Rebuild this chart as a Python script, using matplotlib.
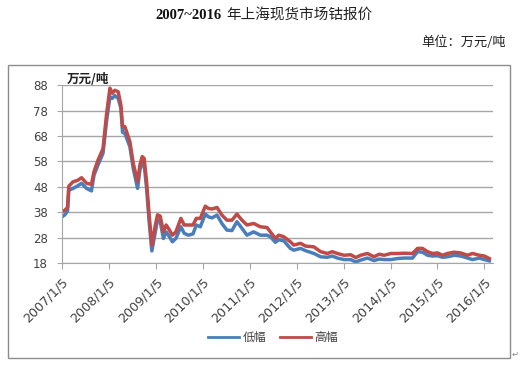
import matplotlib

matplotlib.use("Agg")
import matplotlib.pyplot as plt  # noqa: E402
import pandas as pd  # noqa: E402
from matplotlib.patches import Rectangle  # noqa: E402

plt.rcParams["font.family"] = ["DejaVu Sans", "Noto Sans CJK SC"]

# weekly quotes (万元/吨)
dates = [
    "2007-01-05", "2007-01-28", "2007-02-18", "2007-02-28", "2007-04-02", "2007-05-05",
    "2007-06-07", "2007-07-16", "2007-08-23", "2007-09-12", "2007-10-13", "2007-11-21",
    "2007-12-18", "2008-01-14", "2008-02-01", "2008-02-21", "2008-03-18", "2008-04-08",
    "2008-04-21", "2008-05-09", "2008-06-17", "2008-07-13", "2008-08-16", "2008-09-03",
    "2008-09-21", "2008-10-06", "2008-10-25", "2008-11-14", "2008-12-05", "2008-12-30",
    "2009-01-18", "2009-02-08", "2009-03-05", "2009-03-26", "2009-04-21", "2009-05-14",
    "2009-06-10", "2009-07-19", "2009-08-14", "2009-09-16", "2009-10-21", "2009-11-16",
    "2009-12-17", "2010-01-25", "2010-02-19", "2010-03-18", "2010-04-26", "2010-06-03",
    "2010-07-12", "2010-08-20", "2010-09-28", "2010-11-06", "2010-12-15", "2011-02-05",
    "2011-03-29", "2011-05-20", "2011-06-15", "2011-07-24", "2011-08-19", "2011-09-27",
    "2011-11-18", "2011-12-14", "2012-02-05", "2012-03-15", "2012-05-19", "2012-07-10",
    "2012-08-31", "2012-10-09", "2012-11-17", "2013-01-08", "2013-03-01", "2013-04-09",
    "2013-05-18", "2013-07-09", "2013-08-30", "2013-10-08", "2013-11-16", "2014-01-08",
    "2014-02-28", "2014-04-21", "2014-06-25", "2014-08-03", "2014-09-11", "2014-10-20",
    "2014-11-28", "2015-01-06", "2015-02-14", "2015-03-24", "2015-05-15", "2015-07-06",
    "2015-08-27", "2015-10-05", "2015-11-26", "2016-01-05", "2016-02-13",
]
low = [
    36.2, 37.0, 38.5, 46.7, 47.4, 48.3, 49.4, 47.4, 46.4, 52.6, 56.6, 61.2,
    73.6, 83.5, 82.8, 83.9, 82.8, 78.9, 69.5, 69.0, 63.8, 55.3, 47.4, 54.6,
    57.6, 57.0, 47.4, 34.3, 22.8, 29.7, 35.0, 34.3, 27.7, 30.3, 28.4, 26.4,
    27.7, 32.3, 29.7, 29.0, 29.5, 33.0, 32.3, 37.3, 36.2, 35.8, 36.9, 33.6,
    31.0, 30.8, 34.3, 31.7, 29.0, 30.3, 29.0, 29.0, 28.4, 26.2, 27.2, 26.8,
    23.8, 23.1, 23.8, 22.9, 21.8, 20.5, 20.3, 20.8, 20.0, 19.4, 19.4, 18.5,
    19.2, 20.0, 19.0, 19.6, 19.4, 19.4, 19.8, 20.0, 20.0, 22.5, 22.3, 21.1,
    20.8, 20.9, 20.3, 20.5, 21.1, 20.8, 20.0, 19.4, 20.0, 19.4, 18.9,
]
high = [
    38.2, 38.8, 39.9, 48.3, 50.0, 50.5, 51.6, 49.4, 49.0, 54.0, 58.5, 63.0,
    76.3, 86.8, 84.8, 86.0, 85.4, 80.2, 71.7, 71.7, 65.8, 57.3, 50.0, 56.6,
    59.9, 59.2, 50.0, 36.9, 25.0, 32.3, 37.0, 36.5, 30.3, 33.0, 31.0, 29.0,
    30.3, 35.6, 33.0, 33.0, 33.0, 35.6, 35.6, 40.4, 39.5, 39.3, 39.9, 36.9,
    34.9, 34.9, 37.3, 34.9, 33.0, 33.6, 32.3, 32.0, 30.3, 27.7, 29.0, 28.4,
    26.4, 25.1, 25.8, 24.7, 24.4, 22.5, 21.8, 22.5, 21.8, 21.1, 21.3, 20.2,
    21.1, 21.8, 20.5, 21.5, 21.1, 21.8, 21.8, 21.9, 21.8, 23.8, 23.8, 22.5,
    21.8, 22.0, 21.1, 21.8, 22.3, 22.0, 21.1, 21.8, 21.1, 20.8, 19.8,
]
tick_dates = ["2007-01-05", "2008-01-05", "2009-01-05", "2010-01-05", "2011-01-05",
              "2012-01-05", "2013-01-05", "2014-01-05", "2015-01-05", "2016-01-05"]
tick_labels = ["2007/1/5", "2008/1/5", "2009/1/5", "2010/1/5", "2011/1/5",
               "2012/1/5", "2013/1/5", "2014/1/5", "2015/1/5", "2016/1/5"]
y_ticks = [18, 28, 38, 48, 58, 68, 78, 88]

BLUE = "#4A7EBB"
RED = "#BE4B48"
TXT = "#404040"
GRID = "#a6a6a6"

x = pd.to_datetime(dates)
fig = plt.figure(figsize=(5.2, 3.67), dpi=100)
ax = fig.add_axes((0.119, 0.283, 0.829, 0.485))

ax.plot(x, low, color=BLUE, lw=2.5, label="低幅", solid_joinstyle="round")
ax.plot(x, high, color=RED, lw=2.5, label="高幅", solid_joinstyle="round")

ax.set_ylim(18, 88)
ax.set_yticks(y_ticks)
ax.set_xlim(pd.Timestamp("2007-01-05"), pd.Timestamp("2016-03-12"))
ax.set_xticks(pd.to_datetime(tick_dates))
ax.set_xticklabels(tick_labels, rotation=45, ha="right", rotation_mode="anchor")
ax.grid(axis="y", color=GRID, lw=1)
ax.set_axisbelow(True)
for s in ("top", "right"):
    ax.spines[s].set_visible(False)
for s in ("left", "bottom"):
    ax.spines[s].set_color(GRID)
ax.tick_params(axis="y", length=3.6, color=GRID, labelsize=8.5, labelcolor=TXT, pad=6.5)
ax.tick_params(axis="x", length=4, color=GRID, labelsize=9.2, labelcolor=TXT, pad=5)

# unit label sits inside the chart, above the top gridline
ax.text(0.012, 1.03, "万元/吨", transform=ax.transAxes, fontsize=9, fontweight="bold",
        family=["Noto Sans CJK SC"], va="center", ha="left", color="#202020")

leg = ax.legend(loc="center", bbox_to_anchor=(0.49, -0.42), ncol=2, frameon=False,
                fontsize=8.5, handlelength=2.6, columnspacing=1.2, handletextpad=0.3)
for t in leg.get_texts():
    t.set_color(TXT)
    t.set_family(["Noto Sans CJK SC"])
for h in leg.get_lines():
    h.set_linewidth(2)

# chart frame around plot + legend
fig.patches.append(Rectangle((8 / 520, 1 - 358 / 367), 502 / 520, 293 / 367,
                             transform=fig.transFigure, fill=False, ec="#8c8c8c", lw=1))

fig.text(0.426, 0.958, "2007~2016", fontsize=10.5, fontweight="bold",
         family=["Liberation Serif"], ha="right", va="center", color="#111")
fig.text(0.436, 0.958, "年上海现货市场钴报价", fontsize=10.5,
         family=["Noto Sans CJK SC"], ha="left", va="center", color="#222")
fig.text(0.972, 0.885, "单位：万元/吨", fontsize=9.5, family=["Noto Sans CJK SC"],
         ha="right", va="center", color="#222")
fig.text(0.99, 0.035, "↵", fontsize=6, color="#888", ha="center", va="center")

fig.savefig("out.png", dpi=100)
